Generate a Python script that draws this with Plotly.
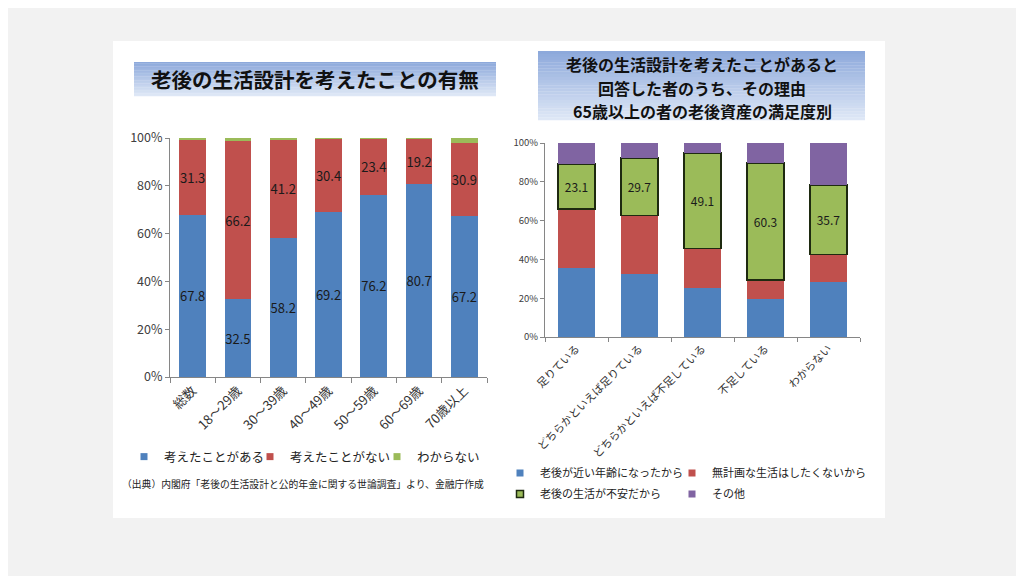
import plotly.graph_objects as go

# 左：老後の生活設計を考えたことの有無（%）
age_groups = ['総数', '18～29歳', '30～39歳', '40～49歳', '50～59歳', '60～69歳', '70歳以上']
thought_yes = [67.8, 32.5, 58.2, 69.2, 76.2, 80.7, 67.2]
thought_no = [31.3, 66.2, 41.2, 30.4, 23.4, 19.2, 30.9]
dont_know = [0.9, 1.3, 0.6, 0.4, 0.4, 0.1, 1.9]

# 右：その理由（65歳以上の者の老後資産の満足度別, %）
satisfaction = ['足りている', 'どちらかといえば足りている', 'どちらかといえば不足している', '不足している', 'わからない']
reason_age = [35.7, 32.4, 25.5, 19.8, 28.4]
reason_plan = [30.3, 30.2, 20.2, 9.6, 14.2]
reason_anxiety = [23.1, 29.7, 49.1, 60.3, 35.7]
reason_other = [10.9, 7.7, 5.2, 10.3, 21.7]

# ページの余白(8px)ぶんを差し引いた図のサイズ
OFF = 8
W, H = 1024 - OFF, 576 - OFF
BLUE = '#4F81BD'
RED = '#C0504D'
GREEN = '#9BBB59'
PURPLE = '#8064A2'
DARK = '#1E2A10'
FONT = 'Noto Sans CJK JP'


def px(x):
    return (x - OFF) / W


def py(y):
    return 1 - (y - OFF) / H


fig = go.Figure()

# 左グラフ
label_font = dict(family=FONT, size=13, color='#1a1a1a')
fig.add_trace(go.Bar(x=age_groups, y=thought_yes, marker_color=BLUE, showlegend=False,
                     text=[f'{v:.1f}' for v in thought_yes], textposition='inside',
                     insidetextanchor='middle', textangle=0, constraintext='none',
                     textfont=label_font, xaxis='x', yaxis='y'))
fig.add_trace(go.Bar(x=age_groups, y=thought_no, marker_color=RED, showlegend=False,
                     text=[f'{v:.1f}' for v in thought_no], textposition='inside',
                     insidetextanchor='middle', textangle=0, constraintext='none',
                     textfont=label_font, xaxis='x', yaxis='y'))
fig.add_trace(go.Bar(x=age_groups, y=dont_know, marker_color=GREEN, showlegend=False,
                     textposition='none', xaxis='x', yaxis='y'))

# 右グラフ
fig.add_trace(go.Bar(x=satisfaction, y=reason_age, marker_color=BLUE, showlegend=False,
                     textposition='none', xaxis='x2', yaxis='y2'))
fig.add_trace(go.Bar(x=satisfaction, y=reason_plan, marker_color=RED, showlegend=False,
                     textposition='none', xaxis='x2', yaxis='y2'))
fig.add_trace(go.Bar(x=satisfaction, y=reason_anxiety, showlegend=False,
                     marker=dict(color=GREEN, line=dict(color=DARK, width=1.5)),
                     text=[f'{v:.1f}' for v in reason_anxiety], textposition='inside',
                     insidetextanchor='middle', textangle=0, constraintext='none',
                     textfont=dict(family=FONT, size=12, color='#1a1a1a'),
                     xaxis='x2', yaxis='y2'))
fig.add_trace(go.Bar(x=satisfaction, y=reason_other, marker_color=PURPLE, showlegend=False,
                     textposition='none', xaxis='x2', yaxis='y2'))


# 凡例（小さい四角）：1項目ずつ別の凡例にして位置を揃える
def legend_entry(name, color, legend, xaxis, yaxis, outline=None):
    line = dict(color=outline, width=1.5) if outline else dict(width=0)
    fig.add_trace(go.Scatter(x=[None], y=[None], mode='markers', name=name,
                             marker=dict(symbol='square', size=7, color=color, line=line),
                             legend=legend, xaxis=xaxis, yaxis=yaxis))


legend_entry('考えたことがある', BLUE, 'legend', 'x', 'y')
legend_entry('考えたことがない', RED, 'legend2', 'x', 'y')
legend_entry('わからない', GREEN, 'legend3', 'x', 'y')
legend_entry('老後が近い年齢になったから', BLUE, 'legend4', 'x2', 'y2')
legend_entry('無計画な生活はしたくないから', RED, 'legend5', 'x2', 'y2')
legend_entry('老後の生活が不安だから', GREEN, 'legend6', 'x2', 'y2', outline=DARK)
legend_entry('その他', PURPLE, 'legend7', 'x2', 'y2')


def legend_box(x, y, size):
    return dict(orientation='h', x=px(x), y=py(y), xanchor='left', yanchor='middle',
                bgcolor='rgba(0,0,0,0)', itemwidth=30, font=dict(size=size, color='#222222'))


# 背景パネルとタイトルボックス（グラデーション）
shapes = [dict(type='rect', xref='paper', yref='paper', layer='below',
               x0=px(113), x1=px(885), y0=py(518), y1=py(41),
               fillcolor='white', line=dict(width=0))]


def gradient_box(x0, x1, y0, y1, n=24):
    top = (141, 169, 219)
    bottom = (222, 231, 246)
    step = (y1 - y0) / n
    for i in range(n):
        t = i / (n - 1)
        c = tuple(round(top[k] + (bottom[k] - top[k]) * t) for k in range(3))
        shapes.append(dict(type='rect', xref='paper', yref='paper', layer='below',
                           x0=px(x0), x1=px(x1), y0=py(y0 + step * (i + 1) + 0.3), y1=py(y0 + step * i),
                           fillcolor='rgb(%d,%d,%d)' % c, line=dict(width=0)))


gradient_box(134, 496, 62, 96)
gradient_box(538, 865, 51, 120)


def note(text, x, y, size, anchor='center', color='#111111'):
    return dict(text=text, x=px(x), y=py(y), xref='paper', yref='paper', xanchor=anchor,
                yanchor='middle', showarrow=False, font=dict(family=FONT, size=size, color=color))


annotations = [
    note('<b>老後の生活設計を考えたことの有無</b>', 315, 79, 20.5),
    note('<b>老後の生活設計を考えたことがあると</b>', 702, 64, 16),
    note('<b>回答した者のうち、その理由</b>', 702, 87.5, 16),
    note('<b>65歳以上の者の老後資産の満足度別</b>', 702, 111, 16),
    note('（出典）内閣府「老後の生活設計と公的年金に関する世論調査」より、金融庁作成',
         120, 484, 9.8, anchor='left', color='#222222'),
]

axis_common = dict(showline=True, linecolor='#868686', linewidth=1, ticks='outside',
                   tickcolor='#868686', showgrid=False, zeroline=False)

fig.update_layout(
    width=W, height=H,
    template='none',
    barmode='stack',
    bargap=0.41,
    paper_bgcolor='#F2F2F2',
    plot_bgcolor='rgba(0,0,0,0)',
    margin=dict(l=0, r=0, t=0, b=0),
    font=dict(family=FONT, color='#333333'),
    shapes=shapes,
    annotations=annotations,
    xaxis=dict(domain=[px(170), px(487)], anchor='y', tickson='boundaries', ticklen=5,
               tickangle=-45, tickfont=dict(size=13, color='#333333'), **axis_common),
    yaxis=dict(domain=[py(377), py(138)], anchor='x', range=[0, 100], dtick=20, ticksuffix='%',
               ticklen=4, tickfont=dict(size=12.5, color='#404040'), **axis_common),
    xaxis2=dict(domain=[px(545), px(860)], anchor='y2', tickson='boundaries', ticklen=4,
                tickangle=-45, tickfont=dict(size=11, color='#333333'), **axis_common),
    yaxis2=dict(domain=[py(337), py(143)], anchor='x2', range=[0, 100], dtick=20, ticksuffix='%',
                ticklen=4, tickfont=dict(size=9.5, color='#404040'), **axis_common),
    legend=legend_box(124, 457, 12.5),
    legend2=legend_box(250, 457, 12.5),
    legend3=legend_box(377, 457, 12.5),
    legend4=legend_box(500, 473, 11),
    legend5=legend_box(672, 473, 11),
    legend6=legend_box(500, 494, 11),
    legend7=legend_box(672, 494, 11),
)

fig.write_html('out.html')
